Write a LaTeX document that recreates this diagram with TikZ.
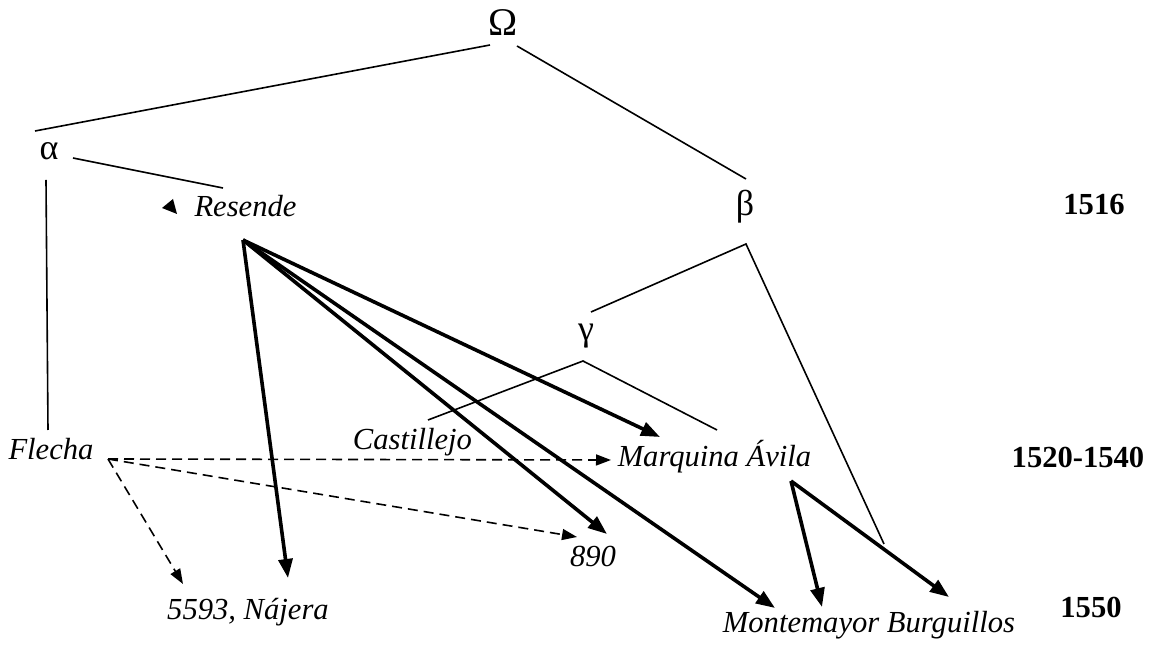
\documentclass[tikz,border=0pt]{standalone}
\usepackage{fontspec}
\setmainfont{Liberation Serif}
\usetikzlibrary{arrows.meta}

\begin{document}
\begin{tikzpicture}[x=0.5pt,y=-0.5pt,
  every node/.style={inner sep=0pt, outer sep=0pt},
  wit/.style={anchor=base, font=\fontsize{15.3}{18}\selectfont\itshape},
  sigla/.style={anchor=base, font=\fontsize{18}{21}\selectfont},
  archetype/.style={anchor=base, font=\fontsize{19.6}{22}\selectfont},
  yearlbl/.style={anchor=base, font=\fontsize{15.3}{18}\selectfont\bfseries},
  stem/.style={line width=0.8pt},
  copyarrow/.style={line width=1.8pt, -{Triangle[length=9.5pt,width=7pt]}},
  contam/.style={line width=0.8pt, dash pattern=on 5pt off 3pt,
                 -{Triangle[length=7.5pt,width=5.5pt]}},
]
\useasboundingbox (0,0) rectangle (1153,646);

% ---- witnesses and hypothetical sources
\node[archetype] (omega) at (503,36) {Ω};
\node[sigla] (alpha) at (49,160) {α};
\node[sigla] (beta)  at (745,216) {β};
\node[sigla] (gamma) at (586,341) {γ};

\node[wit] (resende)   at (245.5,217) {Resende};
\node[wit] (flecha)    at (51,460)   {Flecha};
\node[wit] (castill)   at (412.5,450) {Castillejo};
\node[wit] (marquina)  at (714.5,467) {Marquina Ávila};
\node[wit] (n890)      at (593,567)  {890};
\node[wit] (najera)    at (248,620)  {5593, Nájera};
\node[wit] (montem)    at (869,633)  {Montemayor Burguillos};

% ---- dates
\node[yearlbl] (y1516) at (1094,215) {1516};
\node[yearlbl] (y1520) at (1078,468) {1520-1540};
\node[yearlbl] (y1550) at (1091,618) {1550};

% ---- attachment points of the stemma lines
\coordinate (omegaL) at (490,45);
\coordinate (omegaR) at (517,46);
\coordinate (alphaT) at (35,131);
\coordinate (alphaR) at (73,158);
\coordinate (alphaB) at (46,180);
\coordinate (resTop) at (223,188);
\coordinate (flechaT) at (48,430);
\coordinate (betaT) at (746,179);
\coordinate (betaJ) at (746,244);
\coordinate (gammaT) at (591,312);
\coordinate (burgT) at (884,544);
\coordinate (gammaJ) at (583,361);
\coordinate (castT) at (428,420);
\coordinate (marqT) at (717,430);

% ---- sources and ends of the copying arrows
\coordinate (resSrc) at (243,240);
\coordinate (toNajera) at (288,578);
\coordinate (toMarq) at (660,437);
\coordinate (to890) at (607,534);
\coordinate (toMontem) at (775,608);
\coordinate (marqSrc) at (791,481);
\coordinate (toMontemB) at (822,607);
\coordinate (toBurg) at (949,597);
\coordinate (flSrc) at (108,459);
\coordinate (flMarq) at (611,460);
\coordinate (fl890) at (577,537);
\coordinate (flNajera) at (183,584);

% ---- stemma (thin lines)
\draw[stem] (omegaL) -- (alphaT);
\draw[stem] (omegaR) -- (betaT);
\draw[stem] (alphaR) -- (resTop);
\draw[stem] (alphaB) -- (flechaT);
\draw[stem] (gammaT) -- (betaJ) -- (burgT);
\draw[stem] (castT) -- (gammaJ) -- (marqT);

% ---- stray arrow tip beside Resende
\fill (162,208) -- (173,199) -- (177,214) -- cycle;

% ---- direct copies (thick arrows)
\draw[copyarrow] (resSrc) -- (toNajera);
\draw[copyarrow] (resSrc) -- (toMarq);
\draw[copyarrow] (resSrc) -- (to890);
\draw[copyarrow] (resSrc) -- (toMontem);
\draw[copyarrow] (marqSrc) -- (toMontemB);
\draw[copyarrow] (marqSrc) -- (toBurg);

% ---- contamination from Flecha (dashed arrows)
\draw[contam] (flSrc) -- (flMarq);
\draw[contam] (flSrc) -- (fl890);
\draw[contam] (flSrc) -- (flNajera);
\end{tikzpicture}
\end{document}
